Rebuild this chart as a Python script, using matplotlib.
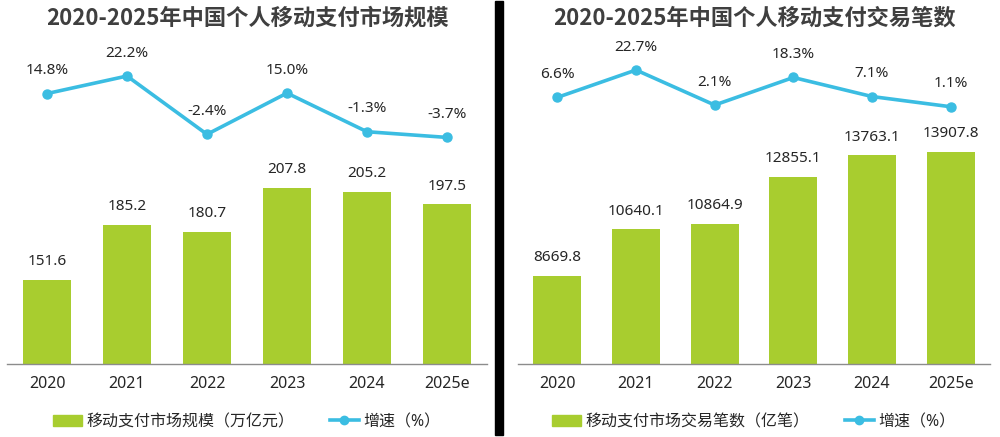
import matplotlib
matplotlib.use("Agg")
import matplotlib.pyplot as plt
from matplotlib.lines import Line2D
from matplotlib.patches import Rectangle

plt.rcParams['font.family'] = ['Noto Sans', 'Noto Sans CJK SC', 'DejaVu Sans']

# --- data ---
years = ['2020', '2021', '2022', '2023', '2024', '2025e']

scale_values = [151.6, 185.2, 180.7, 207.8, 205.2, 197.5]       # 万亿元
scale_growth = [14.8, 22.2, -2.4, 15.0, -1.3, -3.7]              # %

count_values = [8669.8, 10640.1, 10864.9, 12855.1, 13763.1, 13907.8]  # 亿笔
count_growth = [6.6, 22.7, 2.1, 18.3, 7.1, 1.1]                      # %

titles = ['2020-2025年中国个人移动支付市场规模', '2020-2025年中国个人移动支付交易笔数']
bar_names = ['移动支付市场规模（万亿元）', '移动支付市场交易笔数（亿笔）']
line_name = '增速（%）'

BAR_COLOR = '#a8cd2f'
LINE_COLOR = '#3bbde2'
TEXT_COLOR = '#262626'

W, H = 1000, 437
fig = plt.figure(figsize=(W / 100, H / 100), dpi=100)
fig.patch.set_facecolor('white')


def px_axes(x0, x1, ytop, ybot):
    return fig.add_axes([x0 / W, 1 - ybot / H, (x1 - x0) / W, (ybot - ytop) / H])


def panel(x0, x1, bars, growth, bar_lim, line_lim, title, bar_name, bar_fmt):
    ax = px_axes(x0, x1, 40, 364)
    x = list(range(len(years)))
    ax.bar(x, bars, width=0.61, color=BAR_COLOR, zorder=2)
    ax.set_xlim(-0.5, len(years) - 0.5)
    ax.set_ylim(*bar_lim)
    for s in ['top', 'left', 'right']:
        ax.spines[s].set_visible(False)
    ax.spines['bottom'].set_color('#8c8c8c')
    ax.spines['bottom'].set_linewidth(1.0)
    ax.set_yticks([])
    ax.set_xticks(x)
    ax.set_xticklabels(years, fontsize=11.5, color=TEXT_COLOR)
    ax.tick_params(axis='x', length=0, pad=9)
    for xi, v in zip(x, bars):
        ax.annotate(bar_fmt.format(v), (xi, v), xytext=(0, 13), textcoords='offset points',
                    ha='center', va='center', fontsize=11, color=TEXT_COLOR)

    ax2 = ax.twinx()
    ax2.plot(x, growth, color=LINE_COLOR, lw=2.6, marker='o', ms=6.5, zorder=3)
    ax2.set_ylim(*line_lim)
    ax2.set_yticks([])
    for s in ['top', 'left', 'right', 'bottom']:
        ax2.spines[s].set_visible(False)
    for xi, v in zip(x, growth):
        ax2.annotate(f'{v:.1f}%', (xi, v), xytext=(0, 16.5), textcoords='offset points',
                     ha='center', va='center', fontsize=11, color=TEXT_COLOR)

    cx = (x0 + x1) / 2
    fig.text(cx / W, 1 - 18 / H, title, ha='center', va='center', fontsize=16,
             fontweight='bold', color='#3f3f3f', family=['Noto Sans CJK SC', 'DejaVu Sans'])

    handles = [Rectangle((0, 0), 1, 1, color=BAR_COLOR),
               Line2D([0], [0], color=LINE_COLOR, lw=2.6, marker='o', ms=6)]
    ax.legend(handles, [bar_name, line_name], loc='center', ncol=2,
              bbox_to_anchor=(0.5, (364 - 422) / 324), frameon=False,
              fontsize=11.5, handlelength=1.8, handleheight=0.7, handletextpad=0.3,
              columnspacing=2.2, labelcolor=TEXT_COLOR)
    return ax


panel(7, 487, scale_values, scale_growth, (100, 298), (-99.3, 37.4),
      titles[0], bar_names[0], '{:.1f}')
panel(518, 990, count_values, count_growth, (4952, 18640), (-150.2, 40.35),
      titles[1], bar_names[1], '{:.1f}')

# black divider between the two panels
fig.add_artist(Rectangle((495 / W, 2 / H), 8 / W, 1 - 3 / H, transform=fig.transFigure,
                         color='black', zorder=5))

fig.savefig('out.png', dpi=100)
